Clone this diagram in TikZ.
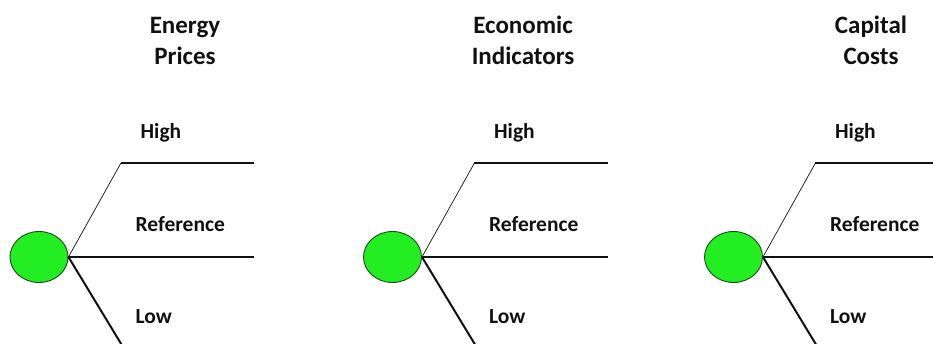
\documentclass[tikz,border=0pt]{standalone}
\usepackage{fontspec}
\setmainfont{Carlito}
\usetikzlibrary{positioning,calc,shapes.geometric}
\definecolor{Leaf}{HTML}{22EE22}
\definecolor{LeafEdge}{HTML}{1E4A1E}
\definecolor{Ink}{HTML}{111111}
\tikzset{
 chance/.style={ellipse, draw=LeafEdge, fill=Leaf, line width=0.9pt, minimum width=58pt, minimum height=51pt, inner sep=0pt},
 heading/.style={align=center, font=\fontsize{25}{31}\selectfont\bfseries, text=Ink, inner sep=0pt, anchor=base},
 outcome/.style={font=\fontsize{21.5}{26}\selectfont\bfseries, text=Ink, inner sep=0pt, anchor=base west},
 upbranch/.style={draw=Ink, line width=0.7pt},
 midbranch/.style={draw=Ink, line width=1.2pt},
 lowbranch/.style={draw=Ink, line width=2pt}
}

\begin{document}
\begin{tikzpicture}[x=1pt,y=-1pt]
\clip (0,0) rectangle (933,344);

% uncertainty headings (base = last line)
\node[heading] (epTitle) at (185,65) {Energy\\Prices};
\node[heading] (eiTitle) at (523,65) {Economic\\Indicators};
\node[heading] (ccTitle) at (871,65) {Capital\\Costs};

% energy prices
\node[chance] (ep) at (39,257) {};
\coordinate (epHiBend) at ($(ep.east)+(52.5,-94)$);
\coordinate (epHiEnd) at ($(ep.east)+(186,-94)$);
\coordinate (epRefEnd) at ($(ep.east)+(186,0)$);
\coordinate (epLoBend) at ($(ep.east)+(57,94)$);
\draw[upbranch] (ep.east) -- (epHiBend);
\draw[midbranch] (epHiBend) -- (epHiEnd);
\draw[midbranch] (ep.east) -- (epRefEnd);
\draw[lowbranch] (ep.east) -- (epLoBend);
\node[outcome] (epHi) at ($(ep.east)+(72,-118)$) {High};
\node[outcome] (epRef) at ($(ep.east)+(67,-25)$) {Reference};
\node[outcome] (epLo) at ($(ep.east)+(67,66)$) {Low};

% economic indicators
\node[chance] (ei) at (392.5,257) {};
\coordinate (eiHiBend) at ($(ei.east)+(52.5,-94)$);
\coordinate (eiHiEnd) at ($(ei.east)+(186,-94)$);
\coordinate (eiRefEnd) at ($(ei.east)+(186,0)$);
\coordinate (eiLoBend) at ($(ei.east)+(57,94)$);
\draw[upbranch] (ei.east) -- (eiHiBend);
\draw[midbranch] (eiHiBend) -- (eiHiEnd);
\draw[midbranch] (ei.east) -- (eiRefEnd);
\draw[lowbranch] (ei.east) -- (eiLoBend);
\node[outcome] (eiHi) at ($(ei.east)+(72,-118)$) {High};
\node[outcome] (eiRef) at ($(ei.east)+(67,-25)$) {Reference};
\node[outcome] (eiLo) at ($(ei.east)+(67,66)$) {Low};

% capital costs
\node[chance] (cc) at (733.5,257) {};
\coordinate (ccHiBend) at ($(cc.east)+(52.5,-94)$);
\coordinate (ccHiEnd) at ($(cc.east)+(186,-94)$);
\coordinate (ccRefEnd) at ($(cc.east)+(186,0)$);
\coordinate (ccLoBend) at ($(cc.east)+(57,94)$);
\draw[upbranch] (cc.east) -- (ccHiBend);
\draw[midbranch] (ccHiBend) -- (ccHiEnd);
\draw[midbranch] (cc.east) -- (ccRefEnd);
\draw[lowbranch] (cc.east) -- (ccLoBend);
\node[outcome] (ccHi) at ($(cc.east)+(72,-118)$) {High};
\node[outcome] (ccRef) at ($(cc.east)+(67,-25)$) {Reference};
\node[outcome] (ccLo) at ($(cc.east)+(67,66)$) {Low};
\end{tikzpicture}
\end{document}
